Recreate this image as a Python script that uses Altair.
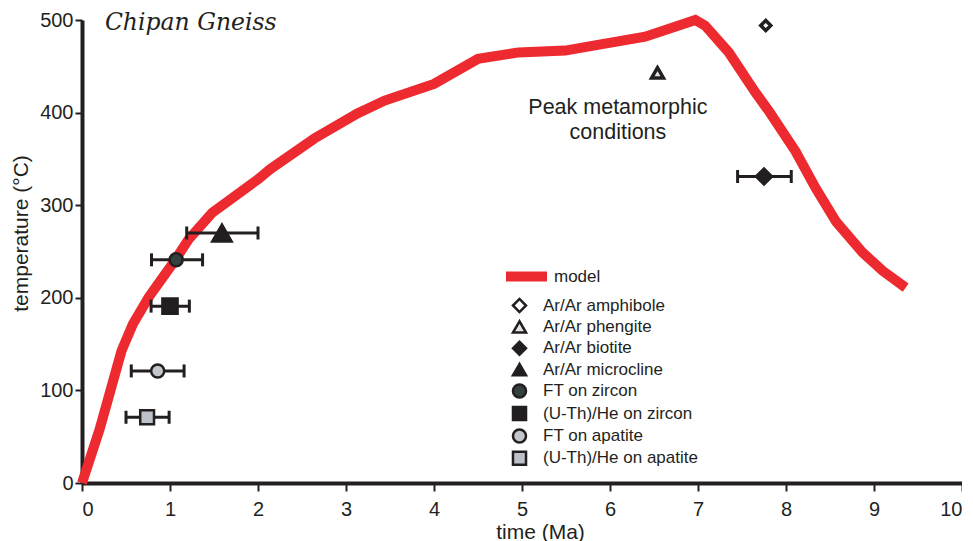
import altair as alt
import pandas as pd

# ---- data ----
model_time = [0, 0.2, 0.45, 0.58, 0.76, 1.06, 1.21, 1.48, 2.0, 2.14, 2.64, 3.13,
              3.44, 4.0, 4.5, 4.96, 5.49, 5.91, 6.4, 6.97, 7.08, 7.35, 7.65, 7.81,
              8.11, 8.34, 8.57, 8.87, 9.1, 9.36]
model_temp = [0, 58, 143, 172, 201, 241, 263, 292, 328, 339, 372, 399,
              413, 431, 458, 465, 467, 474, 482, 500, 494, 465, 422, 401,
              358, 318, 282, 249, 229, 211]

methods = ["Ar/Ar amphibole", "Ar/Ar phengite", "Ar/Ar biotite", "Ar/Ar microcline",
           "FT on zircon", "(U-Th)/He on zircon", "FT on apatite", "(U-Th)/He on apatite"]
age = [7.77, 6.54, 7.75, 1.59, 1.07, 1.0, 0.86, 0.74]
temp = [494, 443, 331, 270, 241, 191, 121, 71]
age_min = [None, None, 7.45, 1.19, 0.79, 0.785, 0.56, 0.50]
age_max = [None, None, 8.06, 2.0, 1.37, 1.22, 1.16, 0.99]

x_ticks = list(range(0, 11))
y_ticks = [0, 100, 200, 300, 400, 500]

title_text = ["Chipan Gneiss"]
title_pos = [(0.26, 489)]
peak_text = ["Peak metamorphic", "conditions"]
peak_pos = [(6.09, 398), (6.09, 371)]

# ---- styles ----
shape_range = ["diamond", "triangle-up", "diamond", "triangle-up",
               "circle", "square", "circle", "square"]
fill_range = ["#ffffff", "#e4e4e4", "#231f20", "#231f20",
              "#34403f", "#231f20", "#c3c6cb", "#bdc1c8"]
stroke_range = ["#231f20"] * 8
size_px = [100, 140, 260, 380, 170, 230, 170, 190]
stroke_px = [3.5, 3.5, 2.5, 2.5, 2.5, 2.5, 2.5, 2.5]
RED = "#ed2a2f"
INK = "#231f20"
FONT = "Liberation Sans"

model_df = pd.DataFrame({"time": model_time, "temp": model_temp, "series": "model"})
pts_df = pd.DataFrame({"method": methods, "age": age, "temp": temp,
                       "age_min": age_min, "age_max": age_max,
                       "sz": size_px, "sw": stroke_px})
err_df = pts_df.dropna()
title_df = pd.DataFrame({"t": title_text, "x": [p[0] for p in title_pos], "y": [p[1] for p in title_pos]})
peak_df = pd.DataFrame({"t": peak_text, "x": [p[0] for p in peak_pos], "y": [p[1] for p in peak_pos]})

xscale = alt.Scale(domain=[0, 10], nice=False)
yscale = alt.Scale(domain=[0, 500], nice=False)
xaxis = alt.Axis(title="time (Ma)", values=x_ticks, format="d", grid=False, titleX=458)
yaxis = alt.Axis(title="temperature (°C)", values=y_ticks, format="d", grid=False, titleY=213)

line = alt.Chart(model_df).mark_line(strokeWidth=10, strokeJoin="miter").encode(
    x=alt.X("time:Q", scale=xscale, axis=xaxis),
    y=alt.Y("temp:Q", scale=yscale, axis=yaxis),
    color=alt.Color("series:N", scale=alt.Scale(domain=["model"], range=[RED]),
                    legend=alt.Legend(title=None, orient="none", legendX=419, legendY=231,
                                      symbolType="stroke", symbolSize=1681, symbolStrokeWidth=10,
                                      labelFontSize=17, labelFont=FONT, labelColor=INK,
                                      labelOffset=2, padding=0)),
    order=alt.Order("time:Q"),
)

rules = alt.Chart(err_df).mark_rule(strokeWidth=3, color=INK).encode(
    x="age_min:Q", x2="age_max:Q", y="temp:Q"
)
caps = alt.Chart(err_df).transform_fold(["age_min", "age_max"], as_=["k", "v"]).mark_tick(
    orient="vertical", thickness=3, size=13, color=INK, opacity=1
).encode(x="v:Q", y="temp:Q")

leg = alt.Legend(title=None, orient="none", legendX=429, legendY=277,
                 symbolSize=170, symbolStrokeWidth=2.5, labelFontSize=17, labelFont=FONT,
                 labelColor=INK, labelOffset=15, rowPadding=-2.6, padding=0)
points = alt.Chart(pts_df).mark_point(filled=True, opacity=1).encode(
    x="age:Q", y="temp:Q",
    shape=alt.Shape("method:N", scale=alt.Scale(domain=methods, range=shape_range), legend=leg),
    fill=alt.Fill("method:N", scale=alt.Scale(domain=methods, range=fill_range), legend=leg),
    stroke=alt.Stroke("method:N", scale=alt.Scale(domain=methods, range=stroke_range), legend=leg),
    size=alt.Size("sz:Q", scale=None),
    strokeWidth=alt.StrokeWidth("sw:Q", scale=None),
)

title_mark = alt.Chart(title_df).mark_text(
    align="left", baseline="alphabetic", font="DejaVu Serif", fontStyle="italic",
    fontSize=23.5, color=INK
).encode(x="x:Q", y="y:Q", text="t:N")

peak_mark = alt.Chart(peak_df).mark_text(
    align="center", baseline="alphabetic", font=FONT, fontSize=21.5, color=INK
).encode(x="x:Q", y="y:Q", text="t:N")

chart = alt.layer(line, rules, caps, points, title_mark, peak_mark).resolve_scale(
    color="independent"
).properties(
    width=880, height=463,
    padding={"left": 74, "top": 12, "right": 0, "bottom": 62},
    autosize=alt.AutoSizeParams(type="none"),
).configure_view(stroke=None).configure_axis(
    domainColor=INK, domainWidth=4, tickColor=INK, tickWidth=2, tickSize=7,
    labelFont=FONT, labelFontSize=20, labelColor=INK, labelPadding=2,
    titleFont=FONT, titleFontSize=21, titleColor=INK, titleFontWeight="normal",
).configure_axisY(titlePadding=8).configure_axisX(titlePadding=2, labelPadding=8, tickSize=8)

chart.save("out.html", embed_options={"renderer": "svg", "actions": False})
